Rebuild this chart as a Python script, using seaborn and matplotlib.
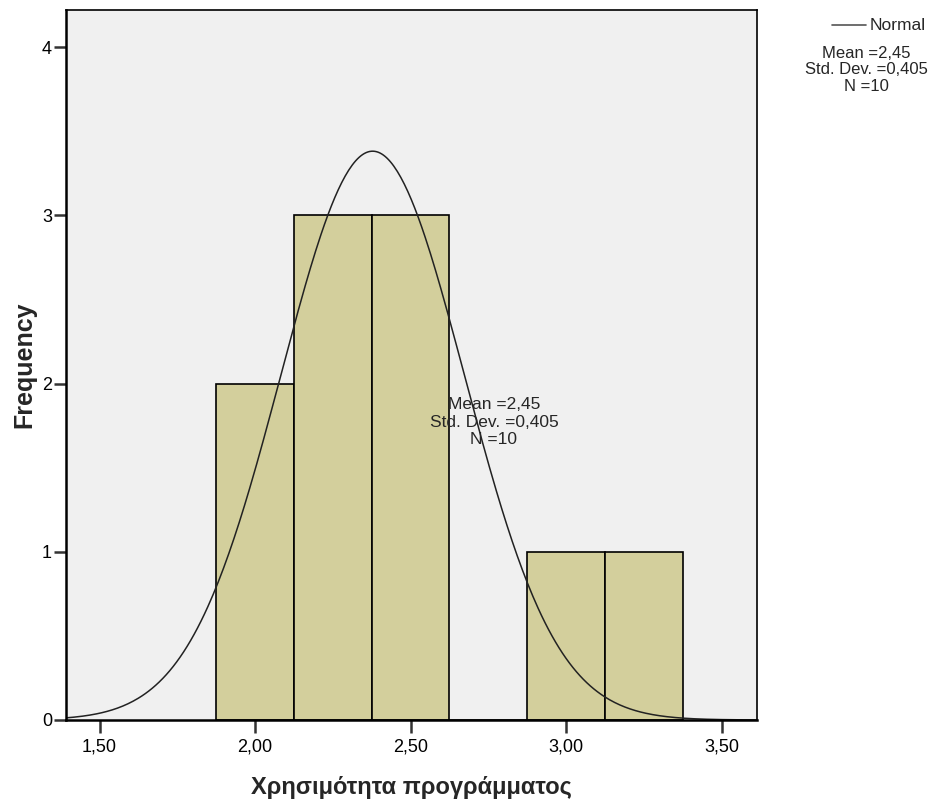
import matplotlib
matplotlib.use("Agg")
import matplotlib.pyplot as plt
import numpy as np
import pandas as pd
import seaborn as sns

# observed scores (N=10)
scores = [2.00, 2.00, 2.25, 2.25, 2.25, 2.50, 2.50, 2.50, 3.00, 3.25]
bin_edges = [1.875, 2.125, 2.375, 2.625, 2.875, 3.125, 3.375]
x_ticks = [1.5, 2.0, 2.5, 3.0, 3.5]
x_tick_labels = ["1,50", "2,00", "2,50", "3,00", "3,50"]
y_ticks = [0, 1, 2, 3, 4]

# normal curve as drawn in the reference
curve_mean = 2.378
curve_sd = 0.295
stats_text = "Mean =2,45\nStd. Dev. =0,405\nN =10"

sns.set_theme(style="white")
plt.rcParams["font.family"] = ["Liberation Sans", "DejaVu Sans"]

fig = plt.figure(figsize=(9.46, 8), dpi=100)
ax = fig.add_axes([66 / 946, 80 / 800, 691 / 946, 710 / 800])
ax.set_facecolor("#f0f0f0")

df = pd.DataFrame({"score": scores})
sns.histplot(data=df, x="score", bins=bin_edges, stat="count", ax=ax,
             color="#d3cf9c", alpha=1, edgecolor="black", linewidth=1.2)

bw = bin_edges[1] - bin_edges[0]
xs = np.linspace(1.39, 3.62, 400)
ys = len(scores) * bw / (curve_sd * np.sqrt(2 * np.pi)) * np.exp(-0.5 * ((xs - curve_mean) / curve_sd) ** 2)
sns.lineplot(x=xs, y=ys, ax=ax, color="#222222", linewidth=1.1)

ax.set_xlim(1.392, 3.614)
ax.set_ylim(0, 4.22)
ax.set_xticks(x_ticks)
ax.set_xticklabels(x_tick_labels, fontsize=13)
ax.set_yticks(y_ticks)
ax.set_yticklabels([str(v) for v in y_ticks], fontsize=13)
ax.tick_params(axis="both", direction="out", length=9, width=1.8, colors="#333333",
               labelcolor="black", bottom=True, left=True, pad=4)
ax.tick_params(axis="y", pad=1)
for s in ax.spines.values():
    s.set_color("black")
    s.set_linewidth(1.2)
ax.spines["left"].set_linewidth(1.8)
ax.spines["bottom"].set_linewidth(1.8)

ax.set_xlabel("Χρησιμότητα προγράμματος", fontsize=17, fontweight="bold", labelpad=15)
ax.set_ylabel("Frequency", fontsize=18, fontweight="bold", labelpad=4)

ax.text(2.768, 1.77, stats_text, ha="center", va="center", fontsize=12.5,
        linespacing=1.2)

# legend outside at top right
fig.lines.append(plt.Line2D([832 / 946, 866 / 946], [775 / 800, 775 / 800],
                            transform=fig.transFigure, color="#555555", linewidth=1.2))
fig.text(870 / 946, 775 / 800, "Normal", ha="left", va="center", fontsize=12.5)
fig.text(866 / 946, 730 / 800, stats_text, ha="center", va="center", fontsize=12,
         linespacing=1.1)

fig.savefig("out.png", dpi=100)
